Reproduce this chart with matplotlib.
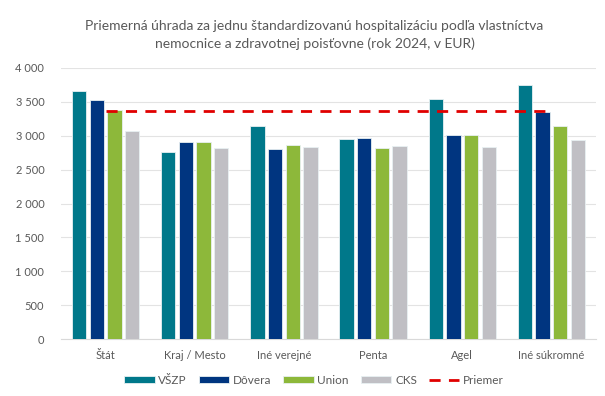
import matplotlib
matplotlib.use("Agg")
from matplotlib import pyplot as plt
import numpy as np

# data
categories = ['Štát', 'Kraj / Mesto', 'Iné verejné', 'Penta', 'Agel', 'Iné súkromné']
vszp = [3655, 2765, 3143, 2956, 3542, 3753]
dovera = [3522, 2912, 2804, 2961, 3011, 3345]
union = [3384, 2907, 2863, 2818, 3006, 3143]
cks = [3075, 2824, 2829, 2843, 2838, 2941]
priemer = 3360
series_names = ['VŠZP', 'Dôvera', 'Union', 'CKS']

colors = ['#00788A', '#003580', '#8DB83A', '#C0BFC4']
text_gray = '#595959'

plt.rcParams['font.family'] = ['Lato', 'DejaVu Sans']

fig = plt.figure(figsize=(6.05, 3.96), dpi=100)
ax = fig.add_axes([61 / 605, 57 / 396, 535 / 605, 271 / 396])

x = np.arange(len(categories))
pitch = 0.198
width = 0.16
handles = []
for i, (vals, name) in enumerate(zip([vszp, dovera, union, cks], series_names)):
    h = ax.bar(x + (i - 1.5) * pitch, vals, width, color=colors[i], label=name,
               edgecolor='#E8F0F2', linewidth=0.6, zorder=3)
    handles.append(h)

line, = ax.plot(x, [priemer] * len(x), color='#E00000', linestyle=(0, (4, 3)),
                linewidth=2, label='Priemer', zorder=4)
handles.append(line)

ax.set_xlim(-0.5, len(categories) - 0.5)
ax.set_ylim(0, 4000)
ax.set_yticks(range(0, 4001, 500))
ax.set_yticklabels([f'{v:,}'.replace(',', ' ') for v in range(0, 4001, 500)])
ax.set_xticks(x)
ax.set_xticklabels(categories)
ax.tick_params(length=0, colors=text_gray, labelsize=8)
ax.tick_params(axis='x', pad=8)
ax.tick_params(axis='y', pad=12)
ax.grid(axis='y', color='#E3E3E3', linewidth=0.8, zorder=0)
for s in ['top', 'right', 'left']:
    ax.spines[s].set_visible(False)
ax.spines['bottom'].set_color('#D9D9D9')

fig.suptitle('Priemerná úhrada za jednu štandardizovanú hospitalizáciu podľa vlastníctva\n'
             'nemocnice a zdravotnej poisťovne (rok 2024, v EUR)',
             x=0.52, y=0.95, fontsize=10, color=text_gray, linespacing=1.5)

fig.legend(handles=handles, loc='center', bbox_to_anchor=(0.519, 0.04), ncol=5,
           frameon=False, fontsize=8.5, handlelength=2.6, handleheight=0.45,
           handletextpad=0.3, columnspacing=1.0, labelcolor=text_gray)

fig.savefig('out.png', dpi=100)
